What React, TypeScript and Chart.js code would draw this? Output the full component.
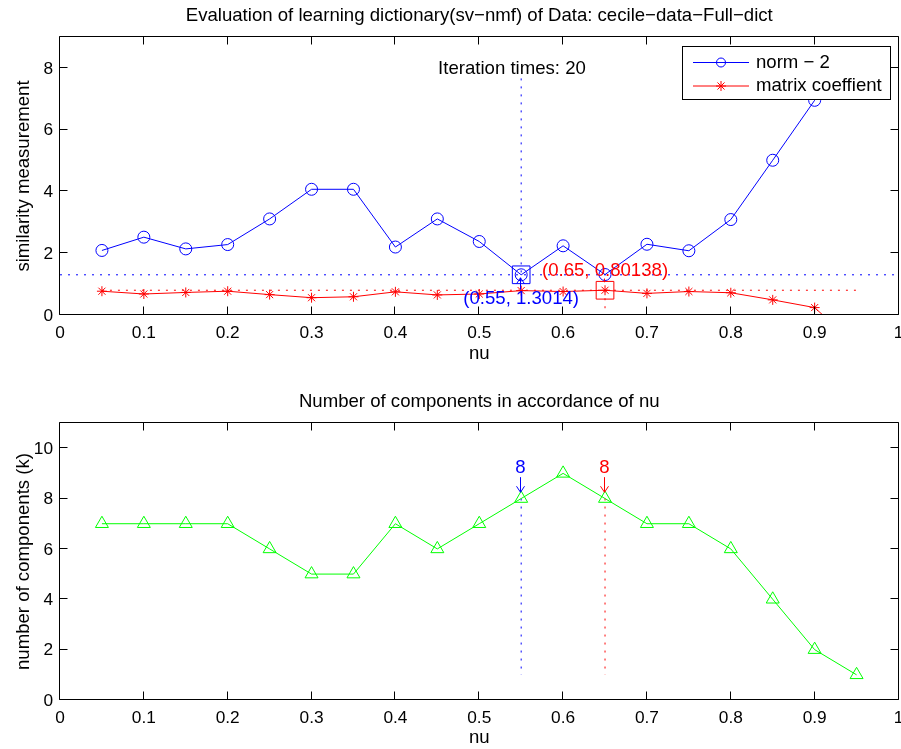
import React, { useEffect, useRef } from "react";
import { Chart, registerables } from "chart.js";
Chart.register(...registerables);

// ---------- data ----------
const nu = [0.05, 0.1, 0.15, 0.2, 0.25, 0.3, 0.35, 0.4, 0.45, 0.5, 0.55, 0.6, 0.65, 0.7, 0.75, 0.8, 0.85, 0.9, 0.95];
const norm2 = [2.09, 2.52, 2.14, 2.28, 3.11, 4.07, 4.07, 2.2, 3.11, 2.38, 1.3014, 2.24, 1.31, 2.29, 2.08, 3.09, 5.01, 6.95, 8.3];
const matrixCoef = [0.77, 0.68, 0.73, 0.77, 0.66, 0.56, 0.59, 0.75, 0.65, 0.68, 0.79, 0.76, 0.80138, 0.7, 0.76, 0.72, 0.49, 0.24, -1.0];
const components = [7, 7, 7, 7, 6, 5, 5, 7, 6, 7, 8, 9, 8, 7, 7, 6, 4, 2, 1];
const xTicks = [0, 0.1, 0.2, 0.3, 0.4, 0.5, 0.6, 0.7, 0.8, 0.9, 1];
const yTicksTop = [0, 2, 4, 6, 8];
const yTicksBottom = [0, 2, 4, 6, 8, 10];
const bestNorm = [0.55, 1.3014];
const bestCoef = [0.65, 0.80138];
const iterations = 20;
const seriesNames = ["norm \u2212 2", "matrix coeffient"];
const topTitle = "Evaluation of learning dictionary(sv\u2212nmf) of Data: cecile\u2212data\u2212Full\u2212dict";
const bottomTitle = "Number of components in accordance of nu";

const FONT = '"Liberation Sans", Arial, Helvetica, sans-serif';
const TEXT_PX = 18.6;
const TICK_PX = 17.3;
const BLUE = "#0000ff";
const RED = "#ff0000";
const GREEN = "#00ff00";

function drawFrame(chart: any, xt: number[], yt: number[]) {
  const { ctx, chartArea } = chart;
  const xs = chart.scales.x;
  const ys = chart.scales.y;
  const L = Math.round(chartArea.left) - 0.5;
  const R = Math.round(chartArea.right) - 0.5;
  const T = Math.round(chartArea.top) - 0.5;
  const B = Math.round(chartArea.bottom) - 0.5;
  const tl = 8;
  ctx.save();
  ctx.strokeStyle = "#000";
  ctx.lineWidth = 1;
  ctx.beginPath();
  ctx.rect(L, T, R - L, B - T);
  for (const v of xt) {
    const p = Math.round(xs.getPixelForValue(v)) - 0.5;
    ctx.moveTo(p, B);
    ctx.lineTo(p, B - tl);
    ctx.moveTo(p, T);
    ctx.lineTo(p, T + tl);
  }
  for (const v of yt) {
    const p = Math.round(ys.getPixelForValue(v)) - 0.5;
    ctx.moveTo(L, p);
    ctx.lineTo(L + tl, p);
    ctx.moveTo(R, p);
    ctx.lineTo(R - tl, p);
  }
  ctx.stroke();
  // tick labels
  ctx.fillStyle = "#000";
  ctx.font = `${TICK_PX}px ${FONT}`;
  ctx.textBaseline = "middle";
  ctx.textAlign = "center";
  for (const v of xt) {
    ctx.fillText(String(v), xs.getPixelForValue(v), chartArea.bottom + 18);
  }
  ctx.textAlign = "right";
  for (const v of yt) {
    ctx.fillText(String(v), chartArea.left - 7, ys.getPixelForValue(v) + 1);
  }
  ctx.restore();
}

function arrow(ctx: any, x: number, y0: number, y1: number, color: string) {
  ctx.save();
  ctx.strokeStyle = color;
  ctx.lineWidth = 1;
  ctx.beginPath();
  ctx.moveTo(x, y0);
  ctx.lineTo(x, y1);
  const d = y1 > y0 ? -1 : 1;
  ctx.moveTo(x - 4, y1 + d * 6);
  ctx.lineTo(x, y1);
  ctx.lineTo(x + 4, y1 + d * 6);
  ctx.stroke();
  ctx.restore();
}

function drawStar(ctx: any, x: number, y: number, r: number) {
  ctx.beginPath();
  for (let k = 0; k < 4; k++) {
    const a = (k * Math.PI) / 4;
    ctx.moveTo(x - Math.cos(a) * r, y - Math.sin(a) * r);
    ctx.lineTo(x + Math.cos(a) * r, y + Math.sin(a) * r);
  }
  ctx.stroke();
}

const topPlugin = {
  id: "topDecor",
  afterDraw(chart: any) {
    drawFrame(chart, xTicks, yTicksTop);
    const { ctx, chartArea } = chart;
    const xs = chart.scales.x;
    const ys = chart.scales.y;
    const cx = (chartArea.left + chartArea.right) / 2;
    ctx.save();
    ctx.fillStyle = "#000";
    ctx.textAlign = "center";
    ctx.textBaseline = "middle";
    ctx.font = `${TEXT_PX}px ${FONT}`;
    ctx.fillText(topTitle, cx, 16);
    ctx.fillText("nu", cx, 354);
    ctx.save();
    ctx.translate(24, (chartArea.top + chartArea.bottom) / 2);
    ctx.rotate(-Math.PI / 2);
    ctx.fillText("similarity measurement", 0, 0);
    ctx.restore();
    ctx.fillText(`Iteration times: ${iterations}`, xs.getPixelForValue(0.539), ys.getPixelForValue(7.98));

    // annotation: best norm
    const bx = xs.getPixelForValue(bestNorm[0]);
    const by = ys.getPixelForValue(bestNorm[1]);
    ctx.fillStyle = BLUE;
    const bty = ys.getPixelForValue(0.53);
    ctx.fillText(`(${bestNorm[0]}, ${bestNorm[1]})`, bx, bty);
    arrow(ctx, Math.round(bx) - 0.5, bty - 9, by + 3, BLUE);

    // annotation: best coef
    const rx = xs.getPixelForValue(bestCoef[0]);
    const ry = ys.getPixelForValue(bestCoef[1]);
    ctx.fillStyle = RED;
    const rty = ys.getPixelForValue(1.44);
    ctx.fillText(`(${bestCoef[0]}, ${bestCoef[1]})`, rx, rty);
    ctx.strokeStyle = RED;
    ctx.beginPath();
    ctx.moveTo(Math.round(rx) - 0.5, rty + 8);
    ctx.lineTo(Math.round(rx) - 0.5, ry - 8);
    ctx.stroke();

    // legend
    const lx = 682.5, ly = 46.5, lw = 208, lh = 53;
    ctx.fillStyle = "#fff";
    ctx.fillRect(lx, ly, lw, lh);
    ctx.strokeStyle = "#000";
    ctx.lineWidth = 1;
    ctx.strokeRect(lx, ly, lw, lh);
    const rows = [ly + 16, ly + 39.5];
    ctx.strokeStyle = BLUE;
    ctx.beginPath();
    ctx.moveTo(693, rows[0]);
    ctx.lineTo(749, rows[0]);
    ctx.stroke();
    ctx.beginPath();
    ctx.arc(721, rows[0], 4.5, 0, Math.PI * 2);
    ctx.stroke();
    ctx.strokeStyle = RED;
    ctx.beginPath();
    ctx.moveTo(693, rows[1]);
    ctx.lineTo(749, rows[1]);
    ctx.stroke();
    drawStar(ctx, 721, rows[1], 5);
    ctx.fillStyle = "#000";
    ctx.textAlign = "left";
    ctx.fillText(seriesNames[0], 756, rows[0]);
    ctx.fillText(seriesNames[1], 756, rows[1]);
    ctx.restore();
  },
};

const bottomPlugin = {
  id: "bottomDecor",
  afterDraw(chart: any) {
    drawFrame(chart, xTicks, yTicksBottom);
    const { ctx, chartArea } = chart;
    const xs = chart.scales.x;
    const ys = chart.scales.y;
    const cx = (chartArea.left + chartArea.right) / 2;
    ctx.save();
    ctx.fillStyle = "#000";
    ctx.textAlign = "center";
    ctx.textBaseline = "middle";
    ctx.font = `${TEXT_PX}px ${FONT}`;
    ctx.fillText(bottomTitle, cx, 32);
    ctx.fillText("nu", cx, 368);
    ctx.save();
    ctx.translate(24, (chartArea.top + chartArea.bottom) / 2);
    ctx.rotate(-Math.PI / 2);
    ctx.fillText("number of components (k)", 0, 0);
    ctx.restore();

    const marks: [number, string][] = [
      [bestNorm[0], BLUE],
      [bestCoef[0], RED],
    ];
    for (const [xv, col] of marks) {
      const k = components[nu.indexOf(xv)];
      const px = Math.round(xs.getPixelForValue(xv)) - 0.5;
      ctx.fillStyle = col;
      ctx.fillText(String(k), px, ys.getPixelForValue(k + 1.2));
      arrow(ctx, px, ys.getPixelForValue(k + 0.85), ys.getPixelForValue(k + 0.25), col);
    }
    ctx.restore();
  },
};

function xScale(height: number) {
  return {
    type: "linear",
    min: 0,
    max: 1,
    afterBuildTicks: (s: any) => {
      s.ticks = xTicks.map((v) => ({ value: v }));
    },
    afterFit: (s: any) => {
      s.height = height;
      s.paddingLeft = 0;
      s.paddingRight = 0;
    },
    ticks: { display: false },
    grid: { display: false, drawTicks: false },
    border: { display: false },
  };
}

function yScale(max: number, ticks: number[]) {
  return {
    type: "linear",
    min: 0,
    max,
    afterBuildTicks: (s: any) => {
      s.ticks = ticks.map((v) => ({ value: v }));
    },
    afterFit: (s: any) => {
      s.width = 60;
      s.paddingTop = 0;
      s.paddingBottom = 0;
    },
    ticks: { display: false },
    grid: { display: false, drawTicks: false },
    border: { display: false },
  };
}

function refLine(pts: number[][], color: string) {
  return {
    data: pts.map((p) => ({ x: p[0], y: p[1] })),
    borderColor: color,
    borderWidth: 1,
    borderDash: [2, 6],
    pointRadius: 0,
    fill: false,
    clip: 0,
    order: 10,
  };
}

export default function App() {
  const topRef = useRef<HTMLCanvasElement>(null);
  const botRef = useRef<HTMLCanvasElement>(null);

  useEffect(() => {
    const top = new Chart(topRef.current as HTMLCanvasElement, {
      type: "line",
      data: {
        datasets: [
          refLine([[0, bestNorm[1]], [1, bestNorm[1]]], BLUE),
          refLine([[nu[0], bestCoef[1]], [nu[nu.length - 1], bestCoef[1]]], RED),
          refLine([[bestNorm[0], 7.66], [bestNorm[0], bestNorm[1]]], BLUE),
          refLine([[bestCoef[0], bestCoef[1]], [bestCoef[0], 0]], RED),
          {
            label: seriesNames[0],
            data: nu.map((x, i) => ({ x, y: norm2[i] })),
            borderColor: BLUE,
            borderWidth: 1,
            pointStyle: "circle",
            pointRadius: 6,
            pointBorderColor: BLUE,
            pointBackgroundColor: "rgba(0,0,0,0)",
            pointBorderWidth: 1,
            fill: false,
            tension: 0,
            clip: 0,
            order: 5,
          },
          {
            label: seriesNames[1],
            data: nu.map((x, i) => ({ x, y: matrixCoef[i] })),
            borderColor: RED,
            borderWidth: 1,
            pointStyle: "star",
            pointRadius: 5,
            pointBorderColor: RED,
            pointBackgroundColor: "rgba(0,0,0,0)",
            pointBorderWidth: 1,
            fill: false,
            tension: 0,
            clip: 0,
            order: 4,
          },
          {
            data: [{ x: bestNorm[0], y: bestNorm[1] }],
            showLine: false,
            pointStyle: "rect",
            pointRadius: 12.5,
            pointBorderColor: BLUE,
            pointBackgroundColor: "rgba(0,0,0,0)",
            pointBorderWidth: 1,
            order: 1,
          },
          {
            data: [{ x: bestCoef[0], y: bestCoef[1] }],
            showLine: false,
            pointStyle: "rect",
            pointRadius: 12.5,
            pointBorderColor: RED,
            pointBackgroundColor: "rgba(0,0,0,0)",
            pointBorderWidth: 1,
            order: 1,
          },
        ],
      },
      options: {
        responsive: false,
        animation: false,
        events: [],
        layout: { autoPadding: false, padding: { top: 37, right: 2.5, left: 0, bottom: 0 } },
        plugins: { legend: { display: false }, tooltip: { enabled: false }, title: { display: false } },
        scales: { x: xScale(55), y: yScale(9, yTicksTop) },
      } as any,
      plugins: [topPlugin],
    } as any);

    const bottom = new Chart(botRef.current as HTMLCanvasElement, {
      type: "line",
      data: {
        datasets: [
          refLine([[bestNorm[0], 8], [bestNorm[0], 1]], BLUE),
          refLine([[bestCoef[0], 8], [bestCoef[0], 1]], RED),
          {
            label: "components",
            data: nu.map((x, i) => ({ x, y: components[i] })),
            borderColor: GREEN,
            borderWidth: 1,
            pointStyle: "triangle",
            pointRadius: 7.5,
            pointBorderColor: GREEN,
            pointBackgroundColor: "rgba(0,0,0,0)",
            pointBorderWidth: 1,
            fill: false,
            tension: 0,
            clip: 0,
            order: 1,
          },
        ],
      },
      options: {
        responsive: false,
        animation: false,
        events: [],
        layout: { autoPadding: false, padding: { top: 53, right: 2.5, left: 0, bottom: 0 } },
        plugins: { legend: { display: false }, tooltip: { enabled: false }, title: { display: false } },
        scales: { x: xScale(49), y: yScale(11, yTicksBottom) },
      } as any,
      plugins: [bottomPlugin],
    } as any);

    return () => {
      top.destroy();
      bottom.destroy();
    };
  }, []);

  return (
    <div style={{ position: "absolute", left: 0, top: 0, width: 901, height: 749, background: "#fff" }}>
      <canvas ref={topRef} width={901} height={370} style={{ display: "block", width: 901, height: 370 }} />
      <canvas ref={botRef} width={901} height={379} style={{ display: "block", width: 901, height: 379 }} />
    </div>
  );
}
